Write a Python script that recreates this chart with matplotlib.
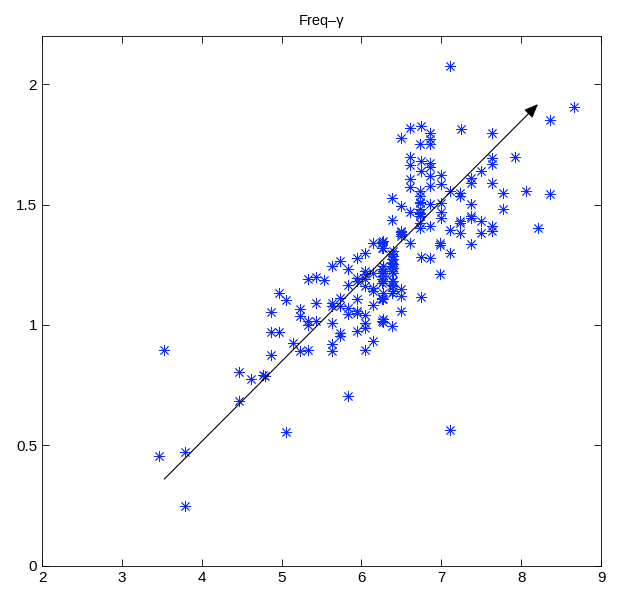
import numpy as np
import matplotlib.pyplot as plt

# points (freq, gamma)
freq = [7.11, 8.66, 8.36, 6.61, 6.74, 6.86, 6.50, 7.24, 7.64, 6.73, 6.86, 6.86,
        6.61, 6.61, 6.74, 6.86, 6.86, 6.74, 6.61, 6.86, 6.99, 6.61, 6.86, 6.99,
        7.37, 7.37, 7.50, 7.64, 7.64, 7.92, 7.64, 7.11, 7.23, 7.23, 6.73, 6.73,
        7.77, 8.06, 8.36, 6.38, 6.50, 6.73, 6.73, 6.86, 6.99, 6.61, 6.73, 6.99,
        6.99, 7.37, 7.37, 7.37, 7.77, 6.38, 6.73, 6.73, 6.86, 7.11, 7.23, 7.23,
        7.23, 7.50, 7.50, 7.64, 7.64, 8.21, 6.50, 6.50, 6.26, 6.61, 6.98, 7.37,
        6.49, 6.49, 6.26, 6.26, 6.98, 6.38, 6.38, 6.38, 6.38, 6.38, 6.74, 6.86,
        7.11, 6.26, 6.26, 6.26, 6.26, 6.38, 6.38, 6.38, 6.98, 6.49, 6.49, 6.74,
        6.26, 6.26, 6.49, 6.26, 6.38, 7.11, 6.73, 6.73, 6.73, 6.15, 6.27, 6.27,
        6.04, 6.39, 6.39, 6.39, 5.94, 5.73, 5.63, 5.83, 6.39, 6.39, 6.39, 6.27,
        6.27, 6.27, 6.27, 6.04, 6.04, 6.04, 6.15, 5.94, 5.94, 5.33, 5.43, 5.53,
        5.83, 6.15, 6.15, 6.39, 6.39, 6.39, 6.27, 6.27, 6.04, 4.97, 5.06, 5.43,
        5.63, 5.63, 5.73, 5.73, 5.94, 6.15, 5.83, 5.83, 5.94, 5.94, 6.04, 5.23,
        5.23, 5.33, 5.33, 5.43, 4.87, 5.63, 6.27, 6.27, 6.04, 6.04, 5.94, 4.87,
        4.97, 5.73, 5.73, 5.14, 6.15, 5.23, 5.33, 5.63, 5.63, 6.04, 4.87, 4.77,
        3.53, 3.46, 3.79, 3.79, 4.46, 4.62, 4.46, 4.79, 5.05, 5.83]
gamma = [2.074, 1.906, 1.852, 1.816, 1.827, 1.796, 1.775, 1.813, 1.796, 1.753, 1.753, 1.774,
         1.698, 1.663, 1.681, 1.674, 1.658, 1.640, 1.608, 1.619, 1.622, 1.575, 1.577, 1.584,
         1.612, 1.591, 1.640, 1.695, 1.670, 1.699, 1.591, 1.557, 1.550, 1.536, 1.557, 1.536,
         1.548, 1.557, 1.543, 1.529, 1.494, 1.510, 1.480, 1.501, 1.508, 1.469, 1.459, 1.469,
         1.446, 1.503, 1.452, 1.446, 1.483, 1.435, 1.425, 1.404, 1.411, 1.393, 1.432, 1.422,
         1.380, 1.432, 1.383, 1.411, 1.390, 1.401, 1.390, 1.376, 1.344, 1.339, 1.339, 1.335,
         1.386, 1.369, 1.342, 1.321, 1.331, 1.293, 1.272, 1.259, 1.245, 1.224, 1.284, 1.279,
         1.300, 1.234, 1.217, 1.189, 1.175, 1.182, 1.168, 1.134, 1.210, 1.148, 1.120, 1.116,
         1.113, 1.106, 1.060, 1.016, 0.995, 0.565, 1.508, 1.467, 1.452, 1.342, 1.349, 1.321,
         1.297, 1.307, 1.287, 1.272, 1.279, 1.266, 1.245, 1.231, 1.252, 1.238, 1.217, 1.245,
         1.224, 1.203, 1.182, 1.224, 1.210, 1.189, 1.217, 1.196, 1.182, 1.189, 1.199, 1.186,
         1.164, 1.154, 1.141, 1.182, 1.161, 1.141, 1.134, 1.106, 1.161, 1.134, 1.103, 1.092,
         1.092, 1.078, 1.113, 1.078, 1.106, 1.081, 1.071, 1.044, 1.057, 1.050, 1.040, 1.067,
         1.037, 1.016, 1.002, 1.016, 1.054, 1.009, 1.023, 1.012, 1.009, 0.988, 0.974, 0.970,
         0.970, 0.967, 0.953, 0.926, 0.933, 0.891, 0.898, 0.919, 0.891, 0.895, 0.877, 0.794,
         0.895, 0.454, 0.471, 0.249, 0.804, 0.776, 0.683, 0.790, 0.554, 0.705]

# fitted trend arrow (start, end)
arrow_x = [3.53, 8.21]
arrow_y = [0.36, 1.917]

xticks = [2, 3, 4, 5, 6, 7, 8, 9]
yticks = [0, 0.5, 1, 1.5, 2]

plt.rcParams['font.family'] = ['Liberation Sans', 'DejaVu Sans']

fig = plt.figure(figsize=(6.19, 5.9), dpi=100)
ax = fig.add_axes([0.068, 0.041, 0.903, 0.898])

ax.plot(freq, gamma, linestyle='none', marker=(8, 2, 0), markersize=8,
        markeredgewidth=0.6, color='#0a2aff')

ax.annotate('', xy=(arrow_x[1], arrow_y[1]), xytext=(arrow_x[0], arrow_y[0]),
            arrowprops=dict(arrowstyle='-|>,head_length=0.6,head_width=0.25',
                            color='black', lw=0.8,
                            mutation_scale=14, shrinkA=0, shrinkB=0))

ax.set_xlim(2, 9)
ax.set_ylim(0, 2.2)
ax.set_xticks(xticks)
ax.set_xticklabels([str(t) for t in xticks])
ax.set_yticks(yticks)
ax.set_yticklabels(['0', '0.5', '1', '1.5', '2'])
ax.tick_params(direction='in', length=5, labelsize=11, top=True, right=True,
               width=0.6)
for s in ax.spines.values():
    s.set_linewidth(0.6)
ax.set_title('Freq\u2013\u03b3', fontsize=10.5, pad=8)

fig.savefig('out.png', dpi=100)
